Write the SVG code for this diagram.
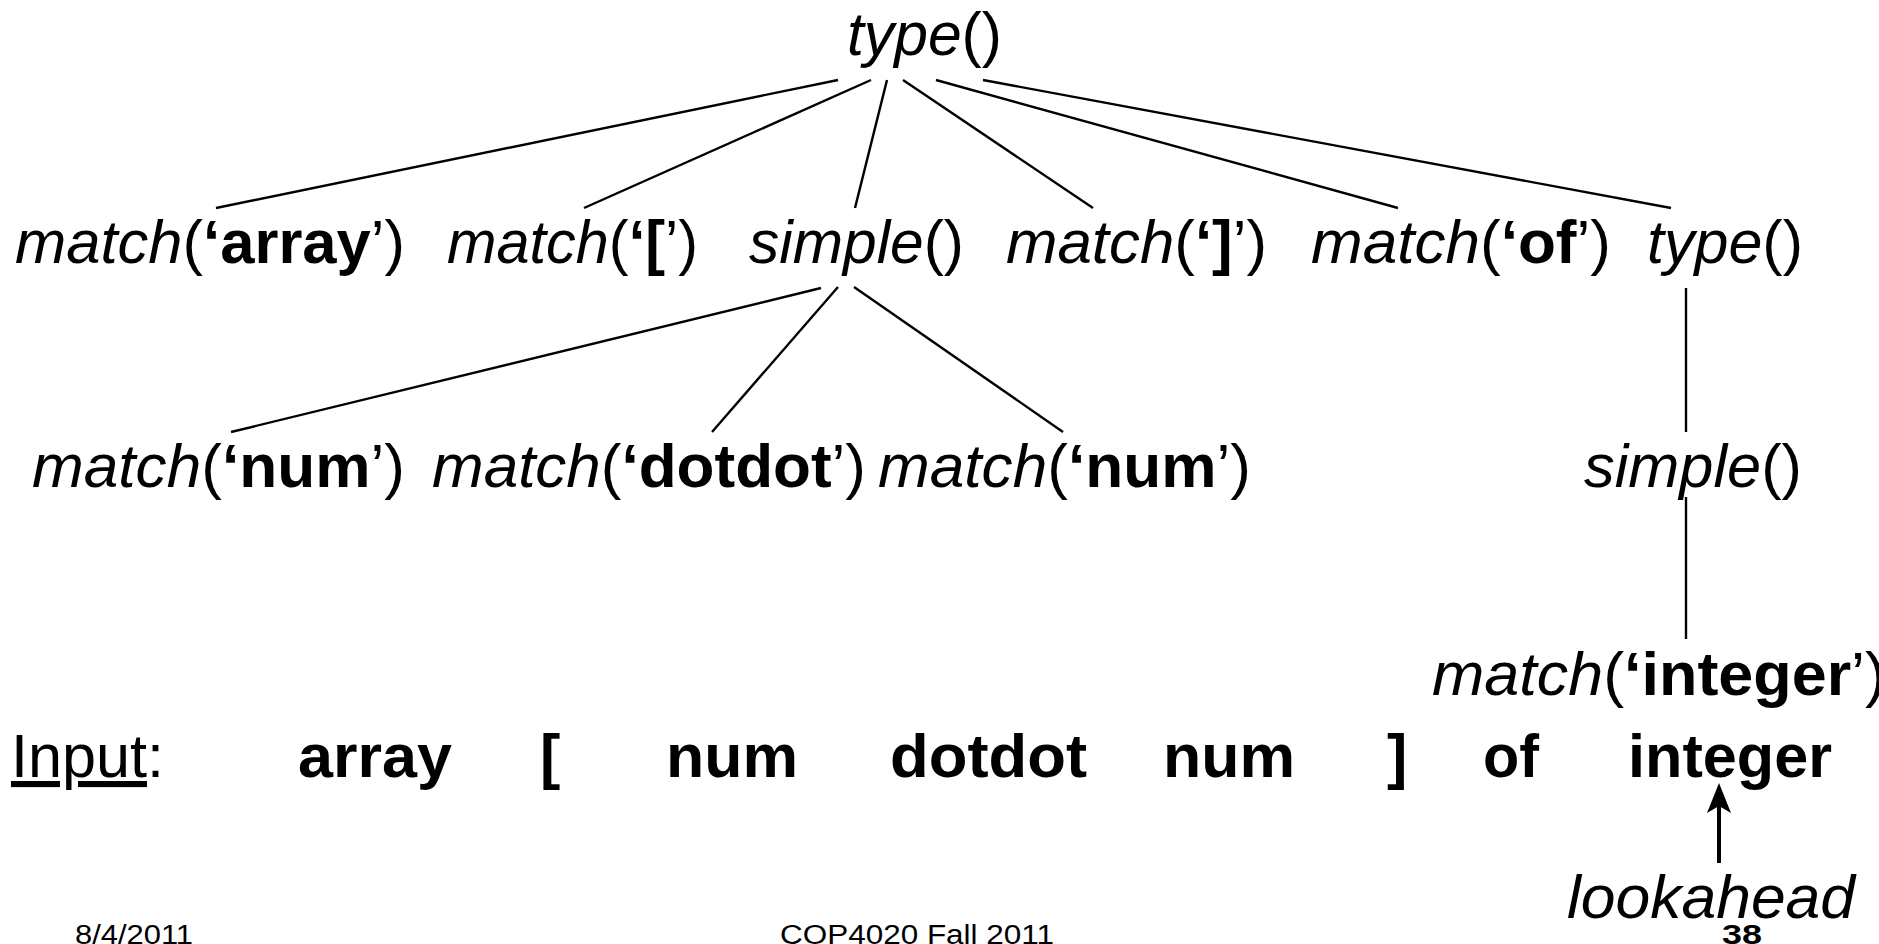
<svg xmlns="http://www.w3.org/2000/svg" width="1879" height="944" viewBox="0 0 1879 944">
<style>
text{font-family:"Liberation Sans",Arial,sans-serif;fill:#000;}
.n{font-size:61px;}
.i{font-style:italic;}
.b{font-weight:bold;}
.tok{font-size:61px;font-weight:bold;}
.foot{font-size:27px;}
.edge{stroke:#000;stroke-width:2.4;fill:none;}
</style>
<rect width="1879" height="944" fill="#fff"/>
<g id="connectors">
<line class="edge" x1="838" y1="80" x2="216" y2="208"/>
<line class="edge" x1="871" y1="80" x2="584" y2="208"/>
<line class="edge" x1="887" y1="80" x2="855" y2="208"/>
<line class="edge" x1="903" y1="80" x2="1093" y2="208"/>
<line class="edge" x1="936" y1="80" x2="1398" y2="208"/>
<line class="edge" x1="983" y1="80" x2="1671" y2="208"/>
<line class="edge" x1="821" y1="288" x2="231" y2="432"/>
<line class="edge" x1="838" y1="287" x2="712" y2="432"/>
<line class="edge" x1="854" y1="287" x2="1063" y2="432"/>
<line class="edge" x1="1686" y1="288" x2="1686" y2="432"/>
<line class="edge" x1="1686" y1="497" x2="1686" y2="639"/>
</g>
<g id="root_type"><text class="n" x="847" y="55" textLength="155" lengthAdjust="spacingAndGlyphs"><tspan class="i">type</tspan>()</text></g>
<g id="match_array"><text class="n" x="15" y="263" textLength="390" lengthAdjust="spacingAndGlyphs"><tspan class="i">match</tspan>(<tspan class="b">‘array</tspan>’)</text></g>
<g id="match_lbracket"><text class="n" x="447" y="263" textLength="251" lengthAdjust="spacingAndGlyphs"><tspan class="i">match</tspan>(<tspan class="b">‘[</tspan>’)</text></g>
<g id="simple_1"><text class="n" x="749" y="263" textLength="215" lengthAdjust="spacingAndGlyphs"><tspan class="i">simple</tspan>()</text></g>
<g id="match_rbracket"><text class="n" x="1006" y="263" textLength="261" lengthAdjust="spacingAndGlyphs"><tspan class="i">match</tspan>(<tspan class="b">‘]</tspan>’)</text></g>
<g id="match_of"><text class="n" x="1311" y="263" textLength="300" lengthAdjust="spacingAndGlyphs"><tspan class="i">match</tspan>(<tspan class="b">‘of</tspan>’)</text></g>
<g id="type_2"><text class="n" x="1647" y="263" textLength="156" lengthAdjust="spacingAndGlyphs"><tspan class="i">type</tspan>()</text></g>
<g id="match_num_1"><text class="n" x="32" y="487" textLength="373" lengthAdjust="spacingAndGlyphs"><tspan class="i">match</tspan>(<tspan class="b">‘num</tspan>’)</text></g>
<g id="match_dotdot"><text class="n" x="432" y="487" textLength="434" lengthAdjust="spacingAndGlyphs"><tspan class="i">match</tspan>(<tspan class="b">‘dotdot</tspan>’)</text></g>
<g id="match_num_2"><text class="n" x="878" y="487" textLength="373" lengthAdjust="spacingAndGlyphs"><tspan class="i">match</tspan>(<tspan class="b">‘num</tspan>’)</text></g>
<g id="simple_2"><text class="n" x="1584" y="487" textLength="218" lengthAdjust="spacingAndGlyphs"><tspan class="i">simple</tspan>()</text></g>
<g id="match_integer"><text class="n" x="1432" y="695" textLength="454" lengthAdjust="spacingAndGlyphs"><tspan class="i">match</tspan>(<tspan class="b">‘integer</tspan>’)</text></g>
<g id="input_row">
<text class="n" x="11" y="777" textLength="153" lengthAdjust="spacingAndGlyphs"><tspan text-decoration="underline">Input</tspan>:</text>
<text class="tok" x="298" y="777" textLength="154" lengthAdjust="spacingAndGlyphs">array</text>
<text class="tok" x="540" y="777">[</text>
<text class="tok" x="666" y="777" textLength="132" lengthAdjust="spacingAndGlyphs">num</text>
<text class="tok" x="890" y="777" textLength="197" lengthAdjust="spacingAndGlyphs">dotdot</text>
<text class="tok" x="1163" y="777" textLength="132" lengthAdjust="spacingAndGlyphs">num</text>
<text class="tok" x="1387" y="777">]</text>
<text class="tok" x="1483" y="777" textLength="56" lengthAdjust="spacingAndGlyphs">of</text>
<text class="tok" x="1628" y="777" textLength="204" lengthAdjust="spacingAndGlyphs">integer</text>
</g>
<g id="lookahead">
<line x1="1719" y1="863" x2="1719" y2="800" stroke="#000" stroke-width="4"/>
<polygon points="1719,783 1731,813 1719,806 1707,813" fill="#000"/>
<text class="n i" x="1567" y="918" textLength="288" lengthAdjust="spacingAndGlyphs">lookahead</text>
</g>
<g id="footer">
<text class="foot" x="75" y="944" textLength="118" lengthAdjust="spacingAndGlyphs">8/4/2011</text>
<text class="foot" x="780" y="944" textLength="274" lengthAdjust="spacingAndGlyphs">COP4020 Fall 2011</text>
<text class="foot b" x="1722" y="944" font-size="37" textLength="40" lengthAdjust="spacingAndGlyphs">38</text>
</g>
</svg>
